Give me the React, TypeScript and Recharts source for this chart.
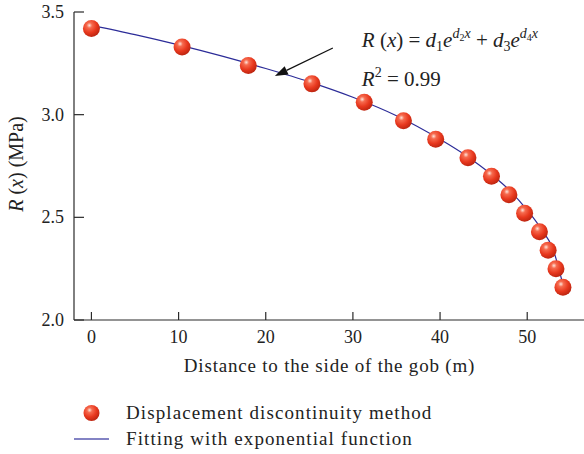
import React from "react";
import {
  ComposedChart,
  Line,
  Scatter,
  XAxis,
  YAxis,
  ReferenceLine,
  Legend,
} from "recharts";

const pointX = [0, 10.4, 18, 25.3, 31.3, 35.8, 39.5, 43.2, 45.9, 47.9, 49.7, 51.4, 52.4, 53.3, 54.1];
const pointY = [3.42, 3.33, 3.24, 3.15, 3.06, 2.97, 2.88, 2.79, 2.7, 2.61, 2.52, 2.43, 2.34, 2.25, 2.16];

const fitX = [0, 5, 10, 15, 20, 25, 30, 35, 40, 43, 46, 48, 50, 51.5, 53, 54.05];
const fitY = [3.435, 3.39, 3.34, 3.285, 3.225, 3.16, 3.085, 2.995, 2.88, 2.8, 2.705, 2.63, 2.535, 2.45, 2.34, 2.18];

const xTicks = [0, 10, 20, 30, 40, 50];
const yTicks = [2.0, 2.5, 3.0, 3.5];

const arrowFrom = { x: 27.7, y: 3.325 };
const arrowTo = { x: 21.05, y: 3.188 };

const seriesNames = ["Displacement discontinuity method", "Fitting with exponential function"];

const points = pointX.map((x, i) => ({ x, y: pointY[i] }));
const fit = fitX.map((x, i) => ({ x, y: fitY[i] }));

const FONT = "'Liberation Serif', 'DejaVu Serif', serif";
const AXIS = "#2a2a2a";
const RED = "#e8381e";
const BLUE = "#2c2c98";

const SphereDefs = ({ id }: { id: string }) => (
  <defs>
    <radialGradient id={id} cx="0.38" cy="0.32" r="0.72">
      <stop offset="0" stopColor="#ffe4da" />
      <stop offset="0.22" stopColor="#f66a4e" />
      <stop offset="0.6" stopColor={RED} />
      <stop offset="1" stopColor="#b8230f" />
    </radialGradient>
  </defs>
);

const Sphere = (props: any) => {
  const { cx, cy } = props;
  if (cx == null || cy == null) return null;
  return (
    <g>
      <SphereDefs id="sphereGrad" />
      <circle cx={cx} cy={cy} r={8.5} fill="url(#sphereGrad)" />
    </g>
  );
};

const BottomTick = (props: any) => {
  const { x, y, payload } = props;
  return (
    <g>
      <line x1={x} y1={y} x2={x} y2={y - 8} stroke={AXIS} strokeWidth={1.2} />
      <text x={x} y={y + 23} textAnchor="middle" fontFamily={FONT} fontSize={18} fill="#222">
        {payload.value}
      </text>
    </g>
  );
};

const TopTick = (props: any) => {
  const { x, y } = props;
  return <line x1={x} y1={y} x2={x} y2={y + 9} stroke={AXIS} strokeWidth={1.2} />;
};

const LeftTick = (props: any) => {
  const { x, y, payload } = props;
  return (
    <g>
      <line x1={x} y1={y} x2={x + 10} y2={y} stroke={AXIS} strokeWidth={1.2} />
      <text x={x - 10} y={y + 6} textAnchor="end" fontFamily={FONT} fontSize={18} fill="#222">
        {Number(payload.value).toFixed(1)}
      </text>
    </g>
  );
};

const RightTick = (props: any) => {
  const { x, y } = props;
  return <line x1={x} y1={y} x2={x - 8} y2={y} stroke={AXIS} strokeWidth={1.2} />;
};

const YTitle = (props: any) => {
  const vb = props.viewBox;
  const cy = vb.y + vb.height / 2 - 2;
  return (
    <text
      transform={`translate(23, ${cy}) rotate(-90)`}
      textAnchor="middle"
      fontFamily={FONT}
      fontSize={20}
      fill="#222"
    >
      <tspan fontStyle="italic">R</tspan>
      <tspan> (</tspan>
      <tspan fontStyle="italic">x</tspan>
      <tspan>) (MPa)</tspan>
    </text>
  );
};

const Arrow = (props: any) => {
  const { x1, y1, x2, y2 } = props;
  if (x1 == null) return null;
  const ang = Math.atan2(y2 - y1, x2 - x1);
  const len = 13;
  const w = 4.5;
  const bx = x2 - len * Math.cos(ang);
  const by = y2 - len * Math.sin(ang);
  const px = -Math.sin(ang) * w;
  const py = Math.cos(ang) * w;
  return (
    <g>
      <line x1={x1} y1={y1} x2={bx} y2={by} stroke="#111" strokeWidth={1.2} />
      <polygon points={`${x2},${y2} ${bx + px},${by + py} ${bx - px},${by - py}`} fill="#111" />
      <text x={x1 + 29} y={y1 - 1} fontFamily={FONT} fontSize={21} fill="#222">
        <tspan fontStyle="italic">R</tspan>
        <tspan> (</tspan>
        <tspan fontStyle="italic">x</tspan>
        <tspan>) = </tspan>
        <tspan fontStyle="italic">d</tspan>
        <tspan fontSize={14} dy={4}>1</tspan>
        <tspan fontStyle="italic" dy={-4}>e</tspan>
        <tspan fontStyle="italic" fontSize={14} dy={-9}>d</tspan>
        <tspan fontSize={10} dy={3}>2</tspan>
        <tspan fontStyle="italic" fontSize={14} dy={-3}>x</tspan>
        <tspan dy={9}> + </tspan>
        <tspan fontStyle="italic">d</tspan>
        <tspan fontSize={14} dy={4}>3</tspan>
        <tspan fontStyle="italic" dy={-4}>e</tspan>
        <tspan fontStyle="italic" fontSize={14} dy={-9}>d</tspan>
        <tspan fontSize={10} dy={3}>4</tspan>
        <tspan fontStyle="italic" fontSize={14} dy={-3}>x</tspan>
      </text>
      <text x={x1 + 29} y={y1 + 38} fontFamily={FONT} fontSize={21} fill="#222">
        <tspan fontStyle="italic">R</tspan>
        <tspan fontSize={14} dy={-9}>2</tspan>
        <tspan dy={9}> = 0.99</tspan>
      </text>
    </g>
  );
};

const LegendContent = () => (
  <div
    style={{
      fontFamily: FONT,
      fontSize: 19,
      letterSpacing: 1.1,
      color: "#222",
      lineHeight: "26px",
    }}
  >
    <div style={{ display: "flex", alignItems: "center" }}>
      <svg width={52} height={26}>
        <SphereDefs id="legendSphere" />
        <circle cx={17.5} cy={13} r={8} fill="url(#legendSphere)" />
      </svg>
      <span>{seriesNames[0]}</span>
    </div>
    <div style={{ display: "flex", alignItems: "center" }}>
      <svg width={52} height={26}>
        <line x1={0} y1={13} x2={35} y2={13} stroke="#5a5ab0" strokeWidth={1.5} />
      </svg>
      <span>{seriesNames[1]}</span>
    </div>
  </div>
);

export default function App() {
  return (
    <div
      style={{
        position: "absolute",
        left: 0,
        top: 0,
        width: 584,
        height: 454,
        overflow: "hidden",
      }}
    >
      <ComposedChart
        width={586}
        height={454}
        margin={{ top: 12, right: 1, left: 0, bottom: 0 }}
      >
        <XAxis
          xAxisId="bottom"
          type="number"
          dataKey="x"
          domain={[-2, 56.63]}
          ticks={xTicks}
          allowDataOverflow
          height={134}
          tickSize={0}
          tickMargin={0}
          tickLine={false}
          tick={<BottomTick />}
          axisLine={{ stroke: AXIS, strokeWidth: 1.2 }}
          label={{
            value: "Distance to the side of the gob (m)",
            position: "insideTop",
            offset: 39,
            fontFamily: FONT,
            fontSize: 19,
            letterSpacing: 0.8,
            fill: "#222",
          }}
        />
        <XAxis
          xAxisId="top"
          orientation="top"
          type="number"
          domain={[-2, 56.63]}
          ticks={xTicks}
          allowDataOverflow
          height={0}
          tickSize={0}
          tickMargin={0}
          tickLine={false}
          tick={<TopTick />}
          axisLine={{ stroke: AXIS, strokeWidth: 1.2 }}
        />
        <YAxis
          yAxisId="left"
          type="number"
          domain={[2, 3.5]}
          ticks={yTicks}
          allowDataOverflow
          width={74}
          tickSize={0}
          tickMargin={0}
          tickLine={false}
          tick={<LeftTick />}
          axisLine={{ stroke: AXIS, strokeWidth: 1.2 }}
          label={{ content: <YTitle /> }}
        />
        <YAxis
          yAxisId="right"
          orientation="right"
          type="number"
          domain={[2, 3.5]}
          ticks={yTicks}
          allowDataOverflow
          width={0}
          tickSize={0}
          tickMargin={0}
          tickLine={false}
          tick={<RightTick />}
          axisLine={{ stroke: AXIS, strokeWidth: 1.2 }}
        />
        <Line
          xAxisId="bottom"
          yAxisId="left"
          data={fit}
          dataKey="y"
          name={seriesNames[1]}
          type="monotone"
          stroke={BLUE}
          strokeWidth={1.2}
          dot={false}
          isAnimationActive={false}
        />
        <Scatter
          xAxisId="bottom"
          yAxisId="left"
          data={points}
          dataKey="y"
          name={seriesNames[0]}
          shape={<Sphere />}
          isAnimationActive={false}
        />
        <ReferenceLine
          xAxisId="bottom"
          yAxisId="left"
          segment={[arrowFrom, arrowTo]}
          shape={<Arrow />}
          ifOverflow="visible"
        />
        <Legend
          layout="horizontal"
          verticalAlign="middle"
          align="center"
          content={<LegendContent />}
          wrapperStyle={{ position: "absolute", left: 74, top: 400, width: 480 }}
        />
      </ComposedChart>
    </div>
  );
}
